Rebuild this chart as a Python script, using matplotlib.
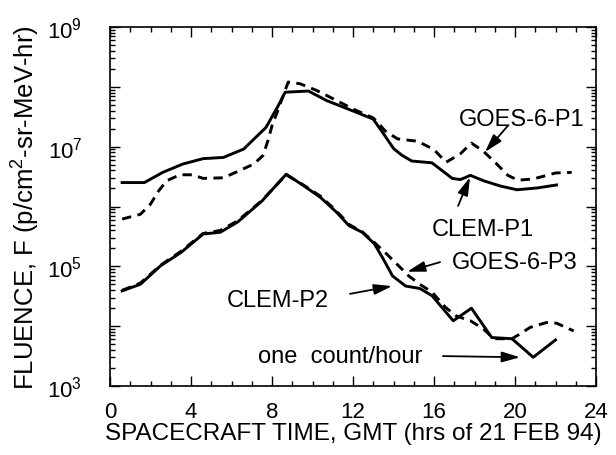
import numpy as np
import matplotlib
matplotlib.use("Agg")
import matplotlib.pyplot as plt
from matplotlib.ticker import FixedLocator, FuncFormatter, MultipleLocator, LogLocator, NullFormatter

plt.rcParams['font.family'] = ['Liberation Sans', 'DejaVu Sans']
plt.rcParams['mathtext.default'] = 'regular'

# ---- data (time in hours, log10 fluence) ----
t_clem_p1 = [0.6, 1.7, 2.6, 3.6, 4.6, 5.6, 6.6, 7.7, 8.3, 8.65, 9.8, 10.7, 12.2, 13.0, 13.5,
             14.0, 14.4, 14.9, 15.9, 16.9, 17.3, 17.8, 18.45, 19.3, 20.1, 21.1, 22.05]
lg_clem_p1 = [6.40, 6.40, 6.57, 6.71, 6.80, 6.82, 6.96, 7.32, 7.68, 7.91, 7.93, 7.77, 7.57, 7.46, 7.22,
              6.97, 6.86, 6.76, 6.73, 6.47, 6.45, 6.52, 6.43, 6.34, 6.28, 6.31, 6.36]

t_goes_p1 = [0.6, 1.5, 2.0, 2.4, 2.8, 3.45, 4.05, 4.6, 5.6, 6.4, 7.1, 7.55, 7.8, 8.0, 8.25, 8.55,
             8.8, 9.4, 10.2, 10.85, 12.0, 13.0, 13.6, 14.2, 15.2, 16.0, 16.6, 17.3, 17.85, 18.45,
             19.1, 19.65, 20.15, 20.9, 22.0, 22.8]
lg_goes_p1 = [5.79, 5.87, 6.04, 6.26, 6.43, 6.53, 6.53, 6.47, 6.48, 6.60, 6.71, 6.85, 7.10, 7.35, 7.57, 7.85,
              8.08, 8.05, 7.94, 7.83, 7.63, 7.48, 7.26, 7.13, 7.09, 6.95, 6.74, 6.88, 7.06, 6.92,
              6.71, 6.52, 6.44, 6.46, 6.56, 6.57]

t_clem_p2 = [0.6, 1.5, 2.5, 3.5, 4.6, 5.45, 6.3, 7.5, 8.7, 9.55, 10.4, 11.2, 11.8, 12.45, 13.05,
             13.5, 13.95, 14.6, 15.3, 15.9, 16.95, 17.85, 18.85, 19.85, 20.9, 22.0]
lg_clem_p2 = [4.59, 4.70, 5.01, 5.23, 5.54, 5.57, 5.74, 6.09, 6.54, 6.35, 6.15, 5.90, 5.68, 5.57, 5.38,
              5.12, 4.84, 4.67, 4.63, 4.51, 4.09, 4.30, 3.81, 3.79, 3.48, 3.77]

t_goes_p3 = [0.6, 1.5, 2.5, 3.5, 4.6, 5.45, 6.3, 7.5, 8.7, 9.55, 10.4, 11.2, 11.8, 12.45, 13.05,
             13.65, 14.25, 14.75, 15.3, 15.9, 16.55, 17.1, 17.8, 18.45, 18.95, 19.85, 20.25, 20.75,
             21.55, 22.05, 22.9]
lg_goes_p3 = [4.60, 4.72, 5.02, 5.25, 5.55, 5.60, 5.76, 6.10, 6.53, 6.36, 6.17, 5.92, 5.70, 5.58, 5.40,
              5.21, 5.01, 4.84, 4.70, 4.57, 4.32, 4.17, 4.09, 3.95, 3.79, 3.79, 3.87, 3.98,
              4.06, 4.05, 3.92]

x_ticks = [0, 4, 8, 12, 16, 20, 24]
y_decades = [3, 4, 5, 6, 7, 8, 9]
y_labeled = [3, 5, 7, 9]

# annotations: text, text position (t, log10F), arrow tail, arrow head
ann_labels = ["GOES-6-P1", "CLEM-P1", "GOES-6-P3", "CLEM-P2", "one  count/hour"]
ann_text_pos = [(20.35, 7.46), (18.42, 5.62), (20.0, 5.07), (8.3, 4.44), (11.36, 3.50)]
ann_tail = [(19.65, 7.35), (17.19, 6.01), (16.3, 5.07), (11.85, 4.54), (16.44, 3.50)]
ann_head = [(18.52, 6.91), (17.78, 6.49), (14.67, 4.91), (13.93, 4.67), (20.25, 3.48)]

fig = plt.figure(figsize=(6.16, 4.56), dpi=100)
ax = fig.add_axes([110/616, 1-387/456, (596-110)/616, (387-28)/456])

lw = 2.1
ax.plot(t_clem_p1, 10**np.array(lg_clem_p1), color='black', lw=lw, solid_joinstyle='round')
ax.plot(t_goes_p1, 10**np.array(lg_goes_p1), color='black', lw=lw, dashes=(3.2, 2.2))
ax.plot(t_clem_p2, 10**np.array(lg_clem_p2), color='black', lw=lw, solid_joinstyle='round')
ax.plot(t_goes_p3, 10**np.array(lg_goes_p3), color='black', lw=lw, dashes=(3.2, 2.2))

ax.set_yscale('log')
ax.set_xlim(0, 24)
ax.set_ylim(1e3, 1e9)

ax.xaxis.set_major_locator(FixedLocator(x_ticks))
ax.xaxis.set_minor_locator(MultipleLocator(1))
ax.yaxis.set_major_locator(FixedLocator([10.0**d for d in y_decades]))
ax.yaxis.set_major_formatter(FuncFormatter(
    lambda v, p: ('$10^{%d}$' % round(np.log10(v))) if round(np.log10(v)) in y_labeled else ''))
ax.yaxis.set_minor_locator(LogLocator(base=10, subs=np.arange(2, 10), numticks=20))
ax.yaxis.set_minor_formatter(NullFormatter())

ax.tick_params(which='both', direction='in', top=True, right=True, width=1.0)
ax.tick_params(which='major', length=7, labelsize=16)
ax.tick_params(which='minor', length=3.5)
ax.tick_params(axis='x', which='major', pad=11)
ax.tick_params(axis='y', which='major', pad=20)
for s in ax.spines.values():
    s.set_linewidth(1.2)

ax.set_xlabel('SPACECRAFT TIME, GMT (hrs of 21 FEB 94)', fontsize=17.5, labelpad=0)
ax.set_ylabel('FLUENCE, F (p/cm$^2$-sr-MeV-hr)', fontsize=18.5, labelpad=4)

for lab, tp, tail, head in zip(ann_labels, ann_text_pos, ann_tail, ann_head):
    ax.text(tp[0], 10**tp[1], lab, fontsize=17, ha='center', va='center')
    ax.annotate('', xy=(head[0], 10**head[1]), xytext=(tail[0], 10**tail[1]),
                arrowprops=dict(arrowstyle='-|>,head_length=1.1,head_width=0.32',
                                color='black', lw=1.3, shrinkA=0, shrinkB=0))

fig.savefig('out.png', dpi=100)
